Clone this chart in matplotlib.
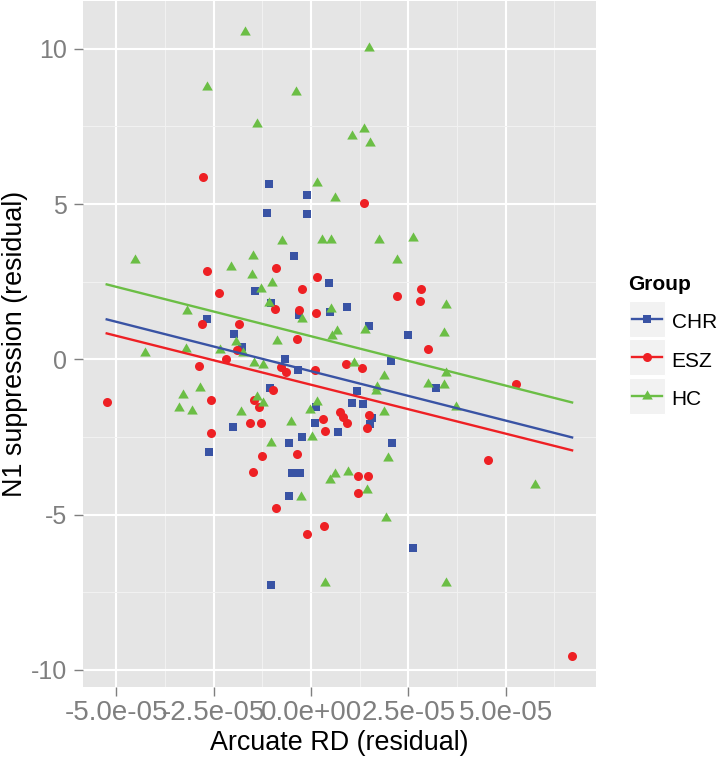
import numpy as np
import matplotlib.pyplot as plt
from matplotlib.lines import Line2D
from matplotlib.patches import Rectangle
from matplotlib.ticker import FixedLocator, FuncFormatter

plt.rcParams['font.family'] = ['Liberation Sans', 'DejaVu Sans']

# x values are in units of 1e-5 (Arcuate RD residual), y = N1 suppression residual
chr_x = [-1.087, -0.103, -1.13, -0.103, -0.437, 0.455, -1.439, -1.036, -0.308, 0.48,
         -2.68, -1.97, -1.765, -0.676, 0.933, 1.49, -0.326, 1.19, 1.045, 1.336,
         1.575, 1.516, 0.702, 0.103, 0.128, -0.24, -0.565, -2.012, -1.053, -2.61,
         -0.496, -0.283, -0.573, -1.02, 2.073, 2.613, 2.5, 2.055, 3.212]
chr_y = [5.65, 5.28, 4.72, 4.67, 3.34, 2.47, 2.20, 1.82, 1.42, 1.53,
         1.30, 0.815, 0.406, 0.02, 1.695, 1.07, -0.345, -1.01, -1.417, -1.44,
         -1.90, -2.084, -2.35, -2.06, -1.527, -2.49, -2.69, -2.17, -0.934, -2.976,
         -3.67, -3.67, -4.40, -7.27, -2.686, -6.087, 0.773, -0.055, -0.914]

esz_x = [-2.78, 1.37, -2.664, -0.899, 0.154, -2.356, -0.231, -0.917, -0.308, 0.128,
         -2.8, -1.842, -1.91, -2.19, -2.878, -0.352, -0.779, -0.642, 0.103, 0.899,
         1.31, 1.498, 1.43, 0.745, 0.83, 0.933, 0.317, 0.36, -1.293, -1.567,
         -0.985, -1.456, -1.328, -2.577, -2.577, -5.249, -1.267, -0.352, -1.482, 1.2,
         1.472, 1.2, -0.899, 0.334, -0.11, 4.548, 6.706, 2.217, 2.818, 2.8,
         2.998, 5.26]
esz_y = [5.88, 5.04, 2.854, 2.93, 2.66, 2.126, 2.264, 1.63, 1.588, 1.49,
         1.127, 1.127, 0.30, 0.0, -0.216, 0.644, -0.238, -0.40, -0.345, -0.151,
         -0.27, -1.794, -2.22, -1.688, -1.849, -2.06, -1.93, -2.31, -2.04, -2.04,
         -0.99, -1.31, -1.546, -1.31, -2.36, -1.385, -3.114, -3.05, -3.64, -3.758,
         -3.758, -4.316, -4.77, -5.37, -5.63, -3.24, -9.556, 2.05, 2.264, 1.878,
         0.332, -0.805]

hc_x = [-1.688, -2.68, -0.385, -1.395, 0.146, 0.617, 1.482, 1.054, 1.37, 1.524,
        -4.522, -2.048, -1.482, -0.737, 0.275, 0.506, -1.508, -1.01, -1.293, -1.07,
        0.52, -0.231, -3.194, -1.935, -1.747, -2.346, -3.22, -4.257, -0.881, 0.54,
        0.676, 1.396, -1.465, -1.226, 1.113, 1.688, 1.67, 0.163, -0.026, 0.035,
        -1.028, -0.522, -1.395, -1.24, -1.806, -3.297, -2.844, -3.384, -3.065, 0.488,
        0.617, 0.958, 1.431, -0.257, 0.368, 1.97, 5.763, 1.927, 3.46, 1.739,
        2.63, 2.217, 3.469, 3.425, 1.876, 2.998, 3.425, 3.718, 1.876, 3.469]
hc_y = [10.53, 8.78, 8.62, 7.58, 5.69, 5.19, 10.02, 7.19, 7.41, 6.96,
        3.20, 2.963, 3.337, 3.80, 3.83, 3.83, 2.715, 2.467, 2.254, 1.82,
        1.61, 1.288, 1.556, 0.567, 0.213, 0.30, 0.322, 0.193, 0.59, 0.75,
        0.92, 0.944, -0.11, -0.184, -0.129, -0.88, -1.02, -1.366, -1.633, -2.49,
        -2.69, -2.03, -1.22, -1.40, -1.688, -1.15, -0.934, -1.578, -1.655, -3.887,
        -3.704, -3.64, -4.21, -4.44, -7.21, -3.17, -4.05, -5.12, -7.21, 3.84,
        3.90, 3.20, 1.749, 0.837, -0.528, -0.795, -0.828, -1.527, -1.688, -0.43]

groups = ['CHR', 'ESZ', 'HC']
xs = [chr_x, esz_x, hc_x]
ys = [chr_y, esz_y, hc_y]
colors = ['#3953A4', '#EE2024', '#6BBE45']

# fitted lines (slope per 1e-5, value at x = 0)
fit_slope = [-0.318, -0.315, -0.318]
fit_icept = [-0.381, -0.817, 0.745]

x_unit = 1e-5

# ggplot-like marker shapes: square, circle, triangle centred on its centroid
tri = [(0, 1), (-0.866, -0.5), (0.866, -0.5)]
markers = ['s', 'o', tri]
msizes = [5.8, 6.5, 8.8]

W, H = 720, 759
fx = lambda px: px / W
fy = lambda py: 1 - py / H

fig = plt.figure(figsize=(W / 100, H / 100), dpi=100)
ax = fig.add_axes([fx(83), fy(687), (596 - 83) / W, (687 - 1) / H])
ax.set_facecolor('#E5E5E5')
for s in ax.spines.values():
    s.set_visible(False)

# points
for i in range(3):
    ax.plot(np.array(xs[i]) * x_unit, ys[i], linestyle='none', marker=markers[i],
            markersize=msizes[i], color=colors[i], markeredgewidth=0, zorder=3)

# regression lines over the full x range of the data
all_x = np.concatenate([np.array(v) for v in xs])
xl = np.array([all_x.min(), all_x.max()])
for i in range(3):
    ax.plot(xl * x_unit, fit_icept[i] + fit_slope[i] * xl, color=colors[i], lw=1.7, zorder=4)

ax.set_xlim(-5.858e-5, 7.32e-5)
ax.set_ylim(-10.55, 11.54)
ax.xaxis.set_major_locator(FixedLocator([-5e-5, -2.5e-5, 0, 2.5e-5, 5e-5]))
ax.xaxis.set_minor_locator(FixedLocator([-3.75e-5, -1.25e-5, 1.25e-5, 3.75e-5, 6.25e-5]))
ax.yaxis.set_major_locator(FixedLocator([-10, -5, 0, 5, 10]))
ax.yaxis.set_minor_locator(FixedLocator([-7.5, -2.5, 2.5, 7.5]))
ax.xaxis.set_major_formatter(FuncFormatter(lambda v, p: f"{v:.1e}"))
ax.yaxis.set_major_formatter(FuncFormatter(lambda v, p: str(int(round(v)))))

ax.set_axisbelow(True)
ax.grid(which='major', color='white', lw=1.5)
ax.grid(which='minor', color='#F2F2F2', lw=0.7)
ax.tick_params(which='minor', length=0)
ax.tick_params(which='major', length=6.5, width=1, color='#7F7F7F',
               labelsize=18, labelcolor='#7F7F7F')
ax.tick_params(axis='x', pad=2.5, labelsize=20)
ax.tick_params(axis='y', pad=5)

ax.set_xlabel('Arcuate RD (residual)', fontsize=19.4, labelpad=3)
ax.set_ylabel('N1 suppression (residual)', fontsize=19.4, labelpad=2)

# legend drawn by hand, ggplot style
fig.text(fx(628.3), fy(289.5), 'Group', fontsize=15, fontweight='bold', va='baseline')
row_top = [301, 339.3, 377.7]
for i in range(3):
    top = row_top[i]
    cy = top + 18
    fig.add_artist(Rectangle((fx(629), fy(top + 36)), 36 / W, 36 / H, transform=fig.transFigure,
                             facecolor='#F2F2F2', edgecolor='white', lw=0.8))
    fig.add_artist(Line2D([fx(631.7), fx(661.7)], [fy(cy), fy(cy)], transform=fig.transFigure,
                          color=colors[i], lw=1.7))
    fig.add_artist(Line2D([fx(647)], [fy(cy)], transform=fig.transFigure, linestyle='none',
                          marker=markers[i], markersize=msizes[i], color=colors[i],
                          markeredgewidth=0))
    fig.text(fx(671.7), fy(cy + 9.5), groups[i], fontsize=15, va='baseline')

fig.savefig('out.png', dpi=100)
